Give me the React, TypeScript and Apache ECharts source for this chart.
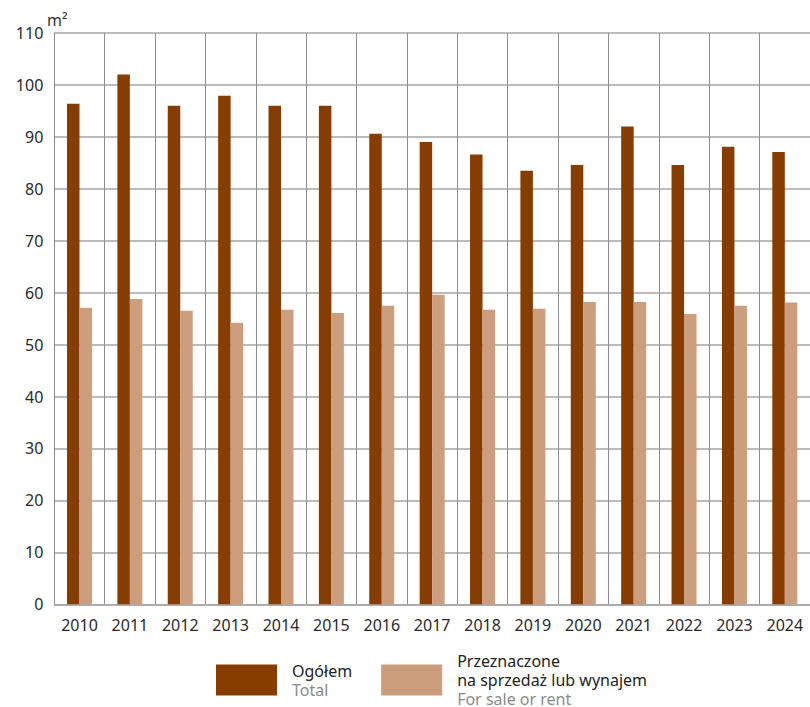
import React, { useEffect, useRef } from "react";
import * as echarts from "echarts";

const years = ["2010", "2011", "2012", "2013", "2014", "2015", "2016", "2017", "2018", "2019", "2020", "2021", "2022", "2023", "2024"];
const totalValues = [96.4, 102.0, 96.0, 97.9, 96.0, 96.0, 90.6, 89.0, 86.6, 83.5, 84.6, 92.0, 84.6, 88.1, 87.1];
const saleValues = [57.1, 58.8, 56.5, 54.2, 56.7, 56.1, 57.5, 59.6, 56.7, 56.9, 58.2, 58.2, 55.9, 57.5, 58.1];
const yTicks = { min: 0, max: 110, interval: 10 };
const seriesNames = ["Ogółem", "Przeznaczone na sprzedaż lub wynajem"];
const legendLabels: Record<string, string> = {
  "Ogółem": "{a|Ogółem}\n{b|Total}",
  "Przeznaczone na sprzedaż lub wynajem": "{a|Przeznaczone}\n{a|na sprzedaż lub wynajem}\n{b|For sale or rent}",
};
const unitLabel = "m²";

const FONT = "'Noto Sans', 'DejaVu Sans', sans-serif";

export default function App() {
  const ref = useRef<HTMLDivElement>(null);
  useEffect(() => {
    if (!ref.current) return;
    const chart = echarts.init(ref.current, null, { renderer: "svg" });
    chart.setOption({
      animation: false,
      textStyle: { fontFamily: FONT },
      grid: { left: 54.3, right: -5, top: 33, bottom: 102.7, containLabel: false },
      graphic: [
        {
          type: "text",
          left: 47,
          top: 12,
          style: { text: unitLabel, fontSize: 16, fill: "#333", fontFamily: FONT },
        },
      ],
      legend: {
        left: 216,
        top: 653,
        padding: 0,
        itemWidth: 61,
        itemHeight: 31,
        itemGap: 29,
        icon: "rect",
        selectedMode: false,
        data: seriesNames,
        formatter: (name: string) => legendLabels[name],
        textStyle: {
          padding: [0, 0, 0, 10],
          rich: {
            a: { fontSize: 16, color: "#222", lineHeight: 19, fontFamily: FONT },
            b: { fontSize: 16, color: "#8a8a8a", lineHeight: 19, fontFamily: FONT },
          },
        },
      },
      xAxis: {
        type: "category",
        data: years,
        boundaryGap: true,
        axisTick: { show: false },
        axisLine: { show: true, lineStyle: { color: "#a6a6a6", width: 1.5 } },
        axisLabel: { interval: 0, fontSize: 16, color: "#2a2a2a", margin: 13, fontFamily: FONT },
        splitLine: { show: true, interval: 0, lineStyle: { color: "#8c8c8c", width: 1 } },
      },
      yAxis: {
        type: "value",
        min: yTicks.min,
        max: yTicks.max,
        interval: yTicks.interval,
        axisLine: { show: true, lineStyle: { color: "#8c8c8c", width: 1 } },
        axisTick: { show: false },
        axisLabel: { fontSize: 16, color: "#2a2a2a", margin: 11, fontFamily: FONT },
        splitLine: { show: true, lineStyle: { color: "#a6a6a6", width: 1.5 } },
      },
      series: [
        {
          name: seriesNames[0],
          type: "bar",
          data: totalValues,
          barWidth: 12.5,
          barGap: "0%",
          itemStyle: { color: "#883d00" },
        },
        {
          name: seriesNames[1],
          type: "bar",
          data: saleValues,
          barWidth: 12.5,
          barGap: "0%",
          itemStyle: { color: "#cc9e7d" },
        },
      ],
    });
    return () => chart.dispose();
  }, []);
  return <div ref={ref} style={{ width: 810, height: 707, position: "absolute", left: 0, top: 0 }} />;
}
